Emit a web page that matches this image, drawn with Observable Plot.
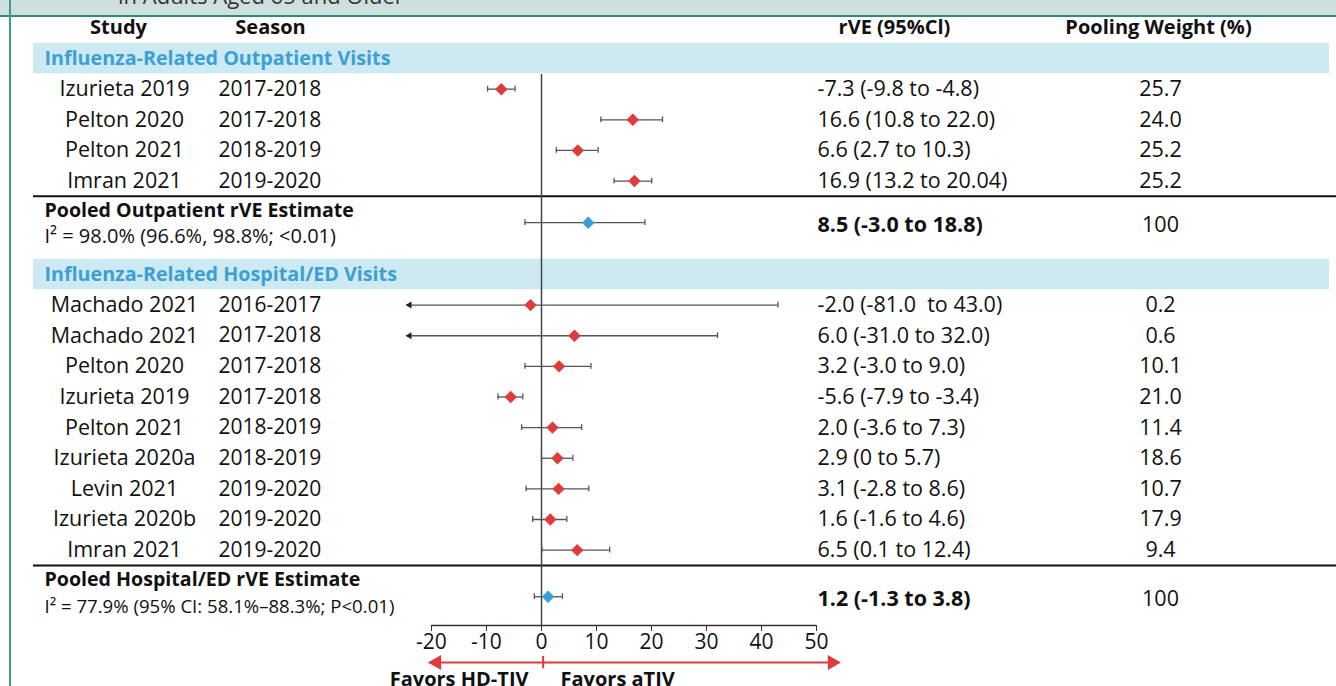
<!DOCTYPE html>
<html><head><meta charset="utf-8">
<script src="https://cdn.jsdelivr.net/npm/d3@7"></script>
<script src="https://cdn.jsdelivr.net/npm/@observablehq/plot@0.6"></script>
<style>
body{margin:0;background:#fff;font-family:"Open Sans",sans-serif;overflow:hidden}
#wrap{position:relative;width:1336px;height:686px;overflow:hidden;background:#fff}
#title{height:15px;background:#cde0de;border-bottom:2px solid #2f8a7e;overflow:hidden;position:relative}
#title span{position:absolute;left:118px;top:-20px;font-size:22px;color:#333;white-space:nowrap}
#lborder{position:absolute;left:9px;top:0;width:2px;height:686px;background:#3d9b94}
#chart svg{display:block;overflow:visible}
</style></head>
<body><div id="wrap"><div id="title"><span>in Adults Aged 65 and Older</span></div><div id="chart"></div><div id="lborder"></div></div>
<script>
// ---- column headers ----
const headers = ["Study", "Season", "rVE (95%Cl)", "Pooling Weight (%)"];
const xTicks = [-20, -10, 0, 10, 20, 30, 40, 50];
const favorLabels = ["Favors HD-TIV", "Favors aTIV"];

// ---- Outpatient section ----
const outTitle = "Influenza-Related Outpatient Visits";
const outStudies = ["Izurieta 2019", "Pelton 2020", "Pelton 2021", "Imran 2021"];
const outSeasons = ["2017-2018", "2017-2018", "2018-2019", "2019-2020"];
const outEst = [-7.3, 16.6, 6.6, 16.9];
const outLo = [-9.8, 10.8, 2.7, 13.2];
const outHi = [-4.8, 22.0, 10.3, 20.04];
const outLabels = ["-7.3 (-9.8 to -4.8)", "16.6 (10.8 to 22.0)", "6.6 (2.7 to 10.3)", "16.9 (13.2 to 20.04)"];
const outWeights = ["25.7", "24.0", "25.2", "25.2"];
const outPooledName = "Pooled Outpatient rVE Estimate";
const outPooledI2 = "I\u00B2 = 98.0% (96.6%, 98.8%; <0.01)";
const outPooled = [8.5, -3.0, 18.8];
const outPooledLabel = "8.5 (-3.0 to 18.8)";
const outPooledWeight = "100";

// ---- Hospital/ED section ----
const hospTitle = "Influenza-Related Hospital/ED Visits";
const hospStudies = ["Machado 2021", "Machado 2021", "Pelton 2020", "Izurieta 2019", "Pelton 2021", "Izurieta 2020a", "Levin 2021", "Izurieta 2020b", "Imran 2021"];
const hospSeasons = ["2016-2017", "2017-2018", "2017-2018", "2017-2018", "2018-2019", "2018-2019", "2019-2020", "2019-2020", "2019-2020"];
const hospEst = [-2.0, 6.0, 3.2, -5.6, 2.0, 2.9, 3.1, 1.6, 6.5];
const hospLo = [-81.0, -31.0, -3.0, -7.9, -3.6, 0, -2.8, -1.6, 0.1];
const hospHi = [43.0, 32.0, 9.0, -3.4, 7.3, 5.7, 8.6, 4.6, 12.4];
const hospLabels = ["-2.0 (-81.0  to 43.0)", "6.0 (-31.0 to 32.0)", "3.2 (-3.0 to 9.0)", "-5.6 (-7.9 to -3.4)", "2.0 (-3.6 to 7.3)", "2.9 (0 to 5.7)", "3.1 (-2.8 to 8.6)", "1.6 (-1.6 to 4.6)", "6.5 (0.1 to 12.4)"];
const hospWeights = ["0.2", "0.6", "10.1", "21.0", "11.4", "18.6", "10.7", "17.9", "9.4"];
const hospPooledName = "Pooled Hospital/ED rVE Estimate";
const hospPooledI2 = "I\u00B2 = 77.9% (95% CI: 58.1%\u201388.3%; P<0.01)";
const hospPooled = [1.2, -1.3, 3.8];
const hospPooledLabel = "1.2 (-1.3 to 3.8)";
const hospPooledWeight = "100";

// ---- layout / style ----
const RED = "#e03b3a", BLUE = "#3a9fd6", BAND = "#cde9f2", SEC = "#3ba0d6", BAR = "#555";
const CLIP = -24.4;            // left display limit of the CI lines (arrow shown beyond)
const ROW = 30.63, Y0 = 10.4;  // pixels per row slot, offset
const FS = 21.5;
const POOL_DY = [0.36, 0.52], I2_DY = [0.8, 0.87], I2_FS = [20, 18.6];

const sections = [
  {title: outTitle, studies: outStudies, seasons: outSeasons, est: outEst, lo: outLo, hi: outHi, labels: outLabels, weights: outWeights,
   pname: outPooledName, pi2: outPooledI2, pooled: outPooled, plabel: outPooledLabel, pweight: outPooledWeight},
  {title: hospTitle, studies: hospStudies, seasons: hospSeasons, est: hospEst, lo: hospLo, hi: hospHi, labels: hospLabels, weights: hospWeights,
   pname: hospPooledName, pi2: hospPooledI2, pooled: hospPooled, plabel: hospPooledLabel, pweight: hospPooledWeight}
];

const bandRows = [], studyRows = [], sepSlots = [], pooledRows = [];
let slot = 1;
sections.forEach((s, k) => {
  bandRows.push({slot, text: s.title});
  s.studies.forEach((name, i) => studyRows.push({
    slot: slot + 1 + i, name, season: s.seasons[i], est: s.est[i], lo: s.lo[i], hi: s.hi[i],
    label: s.labels[i], weight: s.weights[i]
  }));
  const n = s.studies.length;
  sepSlots.push(slot + n + 0.5);
  pooledRows.push({
    tslot: slot + n + 0.96, slot: slot + n + 1 + POOL_DY[k], islot: slot + n + 1 + I2_DY[k],
    name: s.pname, i2: s.pi2, est: s.pooled[0], lo: s.pooled[1], hi: s.pooled[2], label: s.plabel, weight: s.pweight
  });
  slot += n + 3.05;
});
const AXIS = 19.51, FAV = 20.72, FAVT = 21.27;
const headerRow = [{slot: 0}];
const ciRows = studyRows.concat(pooledRows);
const clipped = studyRows.filter(d => d.lo < CLIP);
const capLo = ciRows.filter(d => d.lo >= CLIP);
const CAP = 0.095;

const txt = (data, o) => Plot.text(data, {fontSize: FS, fill: "#111", ...o});

const chart = Plot.plot({
  width: 1336, height: 669,
  margin: 0, marginBottom: 61,
  x: {domain: [-20, 50], range: [431, 816], label: null},
  y: {domain: [0, 20], range: [Y0, Y0 + 20 * ROW], axis: null},
  style: {fontFamily: "'Open Sans', sans-serif", color: "#111", background: "transparent", overflow: "visible"},
  marks: [
    // section bands
    Plot.rect(bandRows, {y1: d => d.slot - 0.5, y2: d => d.slot + 0.5, fill: BAND, insetLeft: 33, insetRight: 7}),
    txt(bandRows, {y: "slot", text: "text", frameAnchor: "left", dx: 44, textAnchor: "start", fill: SEC, fontWeight: "bold", fontSize: 19.7}),
    // separators
    Plot.ruleY(sepSlots, {y: d => d, stroke: "#111", strokeWidth: 2, insetLeft: 33}),
    // zero line
    Plot.ruleX([0], {x: d => d, y1: 1.52, y2: AXIS, stroke: "#444", strokeWidth: 1.5}),
    // headers
    txt(headerRow, {y: "slot", text: () => headers[0], frameAnchor: "left", dx: 118, textAnchor: "middle", fontWeight: "bold", fontSize: 20}),
    txt(headerRow, {y: "slot", text: () => headers[1], frameAnchor: "left", dx: 270, textAnchor: "middle", fontWeight: "bold", fontSize: 20}),
    txt(headerRow, {y: "slot", text: () => headers[2], frameAnchor: "left", dx: 894, textAnchor: "middle", fontWeight: "bold", fontSize: 20}),
    txt(headerRow, {y: "slot", text: () => headers[3], frameAnchor: "left", dx: 1158, textAnchor: "middle", fontWeight: "bold", fontSize: 20}),
    // study rows text
    txt(studyRows, {y: "slot", text: "name", frameAnchor: "left", dx: 124, textAnchor: "middle"}),
    txt(studyRows, {y: "slot", text: "season", frameAnchor: "left", dx: 218, textAnchor: "start", fontSize: 21}),
    txt(studyRows, {y: "slot", text: "label", frameAnchor: "left", dx: 817, textAnchor: "start"}),
    txt(studyRows, {y: "slot", text: "weight", frameAnchor: "left", dx: 1160, textAnchor: "middle"}),
    // pooled text
    txt(pooledRows, {y: "tslot", text: "name", frameAnchor: "left", dx: 44, textAnchor: "start", fontWeight: "bold", fontSize: 19.6}),
    txt(pooledRows.slice(0, 1), {y: "islot", text: "i2", frameAnchor: "left", dx: 44, textAnchor: "start", fontSize: I2_FS[0]}),
    txt(pooledRows.slice(1), {y: "islot", text: "i2", frameAnchor: "left", dx: 44, textAnchor: "start", fontSize: I2_FS[1]}),
    txt(pooledRows, {y: d => d.slot + 0.08, text: "label", frameAnchor: "left", dx: 817, textAnchor: "start", fontWeight: "bold"}),
    txt(pooledRows, {y: d => d.slot + 0.08, text: "weight", frameAnchor: "left", dx: 1160, textAnchor: "middle"}),
    // CI lines
    Plot.ruleY(ciRows, {y: "slot", x1: d => Math.max(d.lo, CLIP), x2: "hi", stroke: BAR, strokeWidth: 1.3}),
    Plot.ruleX(ciRows, {x: "hi", y1: d => d.slot - CAP, y2: d => d.slot + CAP, stroke: BAR, strokeWidth: 1.3}),
    Plot.ruleX(capLo, {x: "lo", y1: d => d.slot - CAP, y2: d => d.slot + CAP, stroke: BAR, strokeWidth: 1.3}),
    Plot.dot(clipped, {x: () => CLIP + 0.4, y: "slot", symbol: "triangle", rotate: -90, r: 2.6, fill: "#222", stroke: "none"}),
    // points
    Plot.dot(studyRows, {x: "est", y: "slot", symbol: "diamond2", r: 5.6, fill: RED, stroke: "none"}),
    Plot.dot(pooledRows, {x: "est", y: "slot", symbol: "diamond2", r: 5.6, fill: BLUE, stroke: "none"}),
    // axis
    Plot.ruleY([AXIS], {y: d => d, x1: xTicks[0], x2: xTicks[xTicks.length - 1], stroke: "#333", strokeWidth: 1.3}),
    Plot.axisX({anchor: "bottom", ticks: xTicks, tickFormat: d => String(d), tickSize: 6, tickPadding: 3, fontSize: 21, stroke: "#333", label: null}),
    // favors arrows
    Plot.ruleY([FAV], {y: d => d, x1: -20.3, x2: 54.1, stroke: RED, strokeWidth: 2}),
    Plot.dot([-20.55 + 1.5], {x: d => d, y: FAV, symbol: "triangle", rotate: -90, r: 5.6, fill: RED, stroke: "none"}),
    Plot.dot([54.35 - 1.5], {x: d => d, y: FAV, symbol: "triangle", rotate: 90, r: 5.6, fill: RED, stroke: "none"}),
    Plot.ruleX([0.3], {x: d => d, y1: FAV - 0.2, y2: FAV + 0.2, stroke: RED, strokeWidth: 2}),
    Plot.text([favorLabels[0]], {x: 0, y: FAVT, text: d => d, dx: -13, textAnchor: "end", fontWeight: "bold", fontSize: 20, fill: "#111"}),
    Plot.text([favorLabels[1]], {x: 0, y: FAVT, text: d => d, dx: 19, textAnchor: "start", fontWeight: "bold", fontSize: 20, fill: "#111"})
  ]
});
document.getElementById("chart").appendChild(chart);
</script>
</body></html>
